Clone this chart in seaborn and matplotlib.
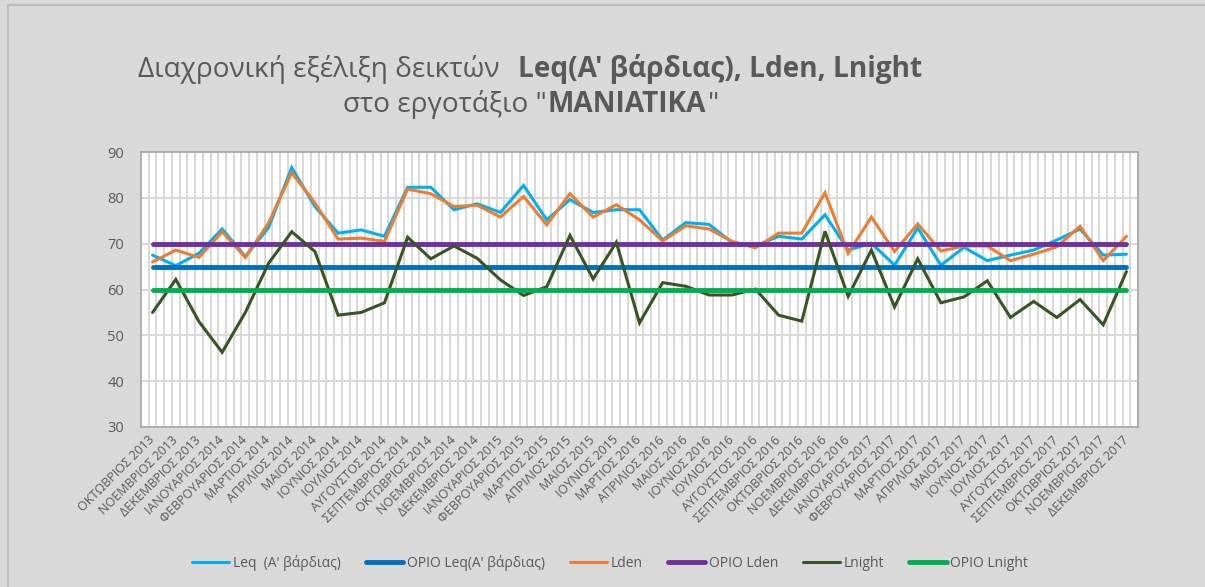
import numpy as np
import pandas as pd
import matplotlib
matplotlib.use("Agg")
import matplotlib.pyplot as plt
from matplotlib.lines import Line2D
import seaborn as sns

# ---- data -----------------------------------------------------------------
months = [
    "ΟΚΤΩΒΡΙΟΣ 2013", "ΝΟΕΜΒΡΙΟΣ 2013", "ΔΕΚΕΜΒΡΙΟΣ 2013",
    "ΙΑΝΟΥΑΡΙΟΣ 2014", "ΦΕΒΡΟΥΑΡΙΟΣ 2014", "ΜΑΡΤΙΟΣ 2014", "ΑΠΡΙΛΙΟΣ 2014",
    "ΜΑΙΟΣ 2014", "ΙΟΥΝΙΟΣ 2014", "ΙΟΥΛΙΟΣ 2014", "ΑΥΓΟΥΣΤΟΣ 2014",
    "ΣΕΠΤΕΜΒΡΙΟΣ 2014", "ΟΚΤΩΒΡΙΟΣ 2014", "ΝΟΕΜΒΡΙΟΣ 2014", "ΔΕΚΕΜΒΡΙΟΣ 2014",
    "ΙΑΝΟΥΑΡΙΟΣ 2015", "ΦΕΒΡΟΥΑΡΙΟΣ 2015", "ΜΑΡΤΙΟΣ 2015", "ΑΠΡΙΛΙΟΣ 2015",
    "ΜΑΙΟΣ 2015", "ΙΟΥΝΙΟΣ 2015",
    "ΜΑΡΤΙΟΣ 2016", "ΑΠΡΙΛΙΟΣ 2016", "ΜΑΙΟΣ 2016", "ΙΟΥΝΙΟΣ 2016",
    "ΙΟΥΛΙΟΣ 2016", "ΑΥΓΟΥΣΤΟΣ 2016", "ΣΕΠΤΕΜΒΡΙΟΣ 2016", "ΟΚΤΩΒΡΙΟΣ 2016",
    "ΝΟΕΜΒΡΙΟΣ 2016", "ΔΕΚΕΜΒΡΙΟΣ 2016",
    "ΙΑΝΟΥΑΡΙΟΣ 2017", "ΦΕΒΡΟΥΑΡΙΟΣ 2017", "ΜΑΡΤΙΟΣ 2017", "ΑΠΡΙΛΙΟΣ 2017",
    "ΜΑΙΟΣ 2017", "ΙΟΥΝΙΟΣ 2017", "ΙΟΥΛΙΟΣ 2017", "ΑΥΓΟΥΣΤΟΣ 2017",
    "ΣΕΠΤΕΜΒΡΙΟΣ 2017", "ΟΚΤΩΒΡΙΟΣ 2017", "ΝΟΕΜΒΡΙΟΣ 2017", "ΔΕΚΕΜΒΡΙΟΣ 2017",
]

leq = [67.5, 65.2, 67.9, 73.2, 67.2, 73.5, 86.6, 78.1, 72.3, 73.0, 71.6,
       82.3, 82.3, 77.4, 78.7, 76.8, 82.7, 75.2, 79.6, 76.8, 77.4, 77.4,
       70.8, 74.6, 74.2, 70.2, 69.5, 71.6, 71.0, 76.3, 68.6, 70.1, 65.3,
       73.4, 65.3, 69.2, 66.3, 67.5, 68.6, 70.8, 73.2, 67.5, 67.7]

lden = [66.0, 68.6, 67.0, 72.6, 67.0, 74.5, 85.5, 78.9, 71.0, 71.2, 70.5,
        81.9, 80.9, 78.1, 78.4, 75.8, 80.3, 74.1, 80.9, 75.8, 78.5, 75.2,
        70.6, 73.9, 73.2, 70.5, 69.1, 72.3, 72.3, 81.1, 67.9, 75.8, 68.3,
        74.3, 68.4, 69.5, 69.5, 66.3, 67.7, 69.3, 73.8, 66.3, 71.6]

lnight = [55.0, 62.2, 53.0, 46.3, 55.0, 65.7, 72.6, 68.3, 54.4, 55.0, 57.1,
          71.4, 66.7, 69.5, 66.8, 62.1, 58.7, 60.6, 71.8, 62.3, 70.3, 52.7,
          61.5, 60.7, 58.8, 58.8, 60.1, 54.4, 53.1, 72.7, 58.5, 68.6, 56.2,
          66.7, 57.1, 58.4, 61.9, 53.9, 57.4, 53.9, 57.8, 52.3, 63.9]

limit_leq = 65
limit_lden = 70
limit_lnight = 60

# ---- styling ---------------------------------------------------------------
W, H, DPI = 1205, 587, 100
BG = "#D9D9D9"
TXT = "#595959"
GRID = "#D9D9D9"

sns.set_theme(style="white")
plt.rcParams["font.family"] = ["Open Sans", "DejaVu Sans"]

fig = plt.figure(figsize=(W / DPI, H / DPI), dpi=DPI, facecolor=BG)
ax = fig.add_axes([141 / W, 1 - 427 / H, (1138 - 141) / W, (427 - 152) / H])
ax.set_facecolor("white")

x = np.arange(len(months))
n = len(months)

series = [
    ("Leq  (A' βάρδιας)", leq, "#00B0F0", 2.2),
    ("ΟΡΙΟ Leq(A' βάρδιας)", [limit_leq] * n, "#0070C0", 3.5),
    ("Lden", lden, "#ED7D31", 2.2),
    ("ΟΡΙΟ Lden", [limit_lden] * n, "#7030A0", 3.5),
    ("Lnight", lnight, "#375623", 2.2),
    ("ΟΡΙΟ Lnight", [limit_lnight] * n, "#00B050", 3.5),
]

for z, (name, vals, color, lw) in enumerate(series):
    df = pd.DataFrame({"idx": x, "value": vals})
    sns.lineplot(data=df, x="idx", y="value", ax=ax, color=color,
                 linewidth=lw, label=name, sort=False, zorder=3 + z,
                 solid_joinstyle="miter", legend=False)

# axes, ticks and grid
ax.set_xlim(-0.5, n - 0.5)
ax.set_ylim(30, 90)
ax.set_yticks(np.arange(30, 91, 10))
ax.set_xticks(x)
ax.set_xticks(np.arange(-0.5, n - 0.4, 1 / 3), minor=True)
ax.set_xticklabels(months, rotation=45, ha="right", va="center",
                   rotation_mode="anchor", fontsize=9, color=TXT)
ax.tick_params(axis="y", labelsize=10.5, labelcolor=TXT, length=0, pad=12)
ax.tick_params(axis="x", which="both", length=0, pad=8)
ax.set_xlabel("")
ax.set_ylabel("")
ax.grid(False)
ax.grid(True, axis="y", which="major", color=GRID, linewidth=1.5, zorder=0)
ax.grid(True, axis="x", which="minor", color=GRID, linewidth=1.5, zorder=0)
ax.set_axisbelow(True)
for sp in ax.spines.values():
    sp.set_visible(True)
    sp.set_color("#ABABAB")
    sp.set_linewidth(1.3)

# outer chart frame (left and top edges)
fig.add_artist(Line2D([8 / W, 8 / W], [0, 1 - 5 / H], transform=fig.transFigure,
                      color="#BDBDBD", linewidth=1.6))
fig.add_artist(Line2D([8 / W, 1], [1 - 5 / H, 1 - 5 / H], transform=fig.transFigure,
                      color="#BDBDBD", linewidth=1.6))

# title, mixed weights on each line
renderer = fig.canvas.get_renderer()


def rich_line(parts, y_px, cx_px, size):
    texts, gaps = [], []
    for s, weight, gap in parts:
        t = fig.text(0, 1 - y_px / H, s, fontsize=size, fontweight=weight,
                     color=TXT, va="baseline", ha="left")
        texts.append(t)
        gaps.append(gap)
    widths = [t.get_window_extent(renderer).width for t in texts]
    total = sum(widths) + sum(gaps)
    xpos = cx_px - total / 2
    for t, w, g in zip(texts, widths, gaps):
        xpos += g
        t.set_x(xpos / W)
        xpos += w


rich_line([("Διαχρονική εξέλιξη δεικτών", "normal", 0),
           ("Leq(A' βάρδιας), Lden, Lnight", "bold", 19)], 77, 530, 20.2)
rich_line([("στο εργοτάξιο \"", "normal", 0),
           ("ΜΑΝΙΑΤΙΚΑ", "bold", 1),
           ("\"", "normal", 1)], 112, 531, 20.2)

# legend
handles = [Line2D([], [], color=c, linewidth=lw) for _, _, c, lw in series]
labels = [s[0] for s in series]
fig.legend(handles, labels, loc="center", bbox_to_anchor=(610 / W, 1 - 563 / H),
           ncol=6, frameon=False, fontsize=10, handlelength=2.7,
           handletextpad=0.25, columnspacing=1.8, labelcolor=TXT)

fig.savefig("out.png", dpi=DPI, facecolor=BG)
